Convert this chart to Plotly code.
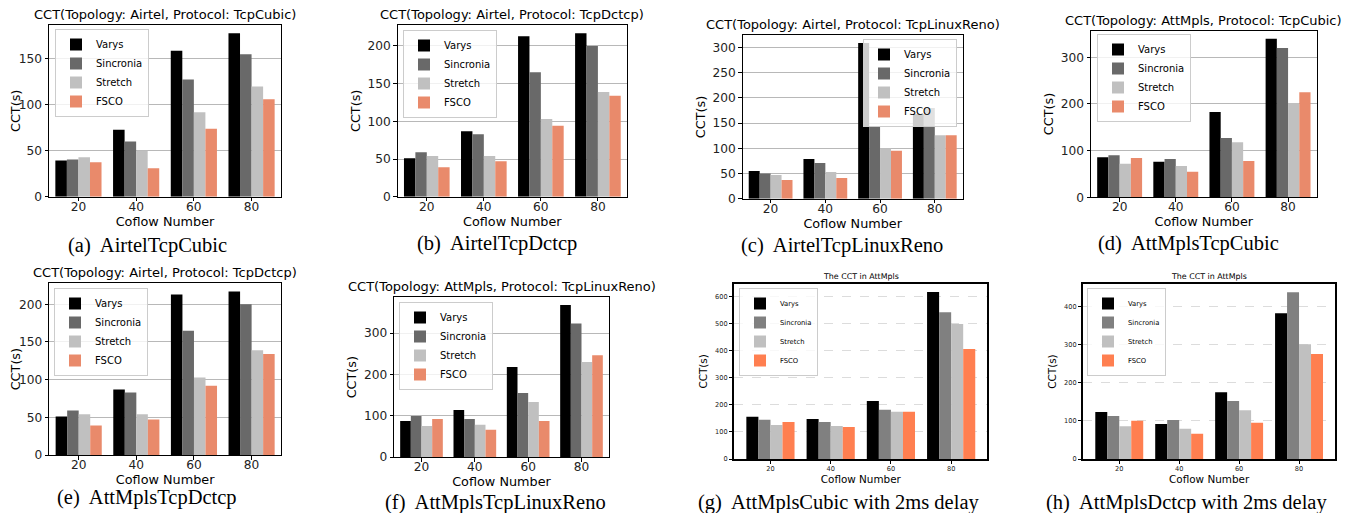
import plotly.graph_objects as go

# ---------------- data ----------------
categories = ["20", "40", "60", "80"]
series_names = ["Varys", "Sincronia", "Stretch", "FSCO"]

a_varys = [39.5, 73, 159, 178]
a_sincronia = [40.5, 60, 127.5, 155]
a_stretch = [43, 50, 92, 120]
a_fsco = [37.5, 31, 74, 106]

b_varys = [51, 87, 213, 217]
b_sincronia = [59, 83, 165, 200]
b_stretch = [54, 54, 103, 139]
b_fsco = [39, 47, 94, 134]

c_varys = [55, 79, 309, 168]
c_sincronia = [50, 71, 144, 180]
c_stretch = [47, 53, 100, 126]
c_fsco = [37, 41, 95, 126]

d_varys = [86, 76, 183, 340]
d_sincronia = [90, 82, 127, 320]
d_stretch = [72, 67, 118, 202]
d_fsco = [84, 55, 78, 225]

e_varys = [51, 87, 213, 217]
e_sincronia = [59, 83, 165, 200]
e_stretch = [54, 54, 103, 139]
e_fsco = [39, 47, 92, 134]

f_varys = [87, 114, 218, 368]
f_sincronia = [99, 92, 155, 323]
f_stretch = [75, 78, 133, 230]
f_fsco = [92, 66, 87, 246]

g_varys = [156, 148, 215, 618]
g_sincronia = [145, 137, 182, 543]
g_stretch = [126, 122, 175, 500]
g_fsco = [137, 118, 175, 407]

h_varys = [123, 92, 175, 382]
h_sincronia = [113, 102, 152, 437]
h_stretch = [86, 79, 128, 301]
h_fsco = [100, 66, 95, 275]

titles = [
    "CCT(Topology: Airtel, Protocol: TcpCubic)",
    "CCT(Topology: Airtel, Protocol: TcpDctcp)",
    "CCT(Topology: Airtel, Protocol: TcpLinuxReno)",
    "CCT(Topology: AttMpls, Protocol: TcpCubic)",
    "CCT(Topology: Airtel, Protocol: TcpDctcp)",
    "CCT(Topology: AttMpls, Protocol: TcpLinuxReno)",
    "The CCT in AttMpls",
    "The CCT in AttMpls",
]
captions = [
    "(a)  AirtelTcpCubic",
    "(b)  AirtelTcpDctcp",
    "(c)  AirtelTcpLinuxReno",
    "(d)  AttMplsTcpCubic",
    "(e)  AttMplsTcpDctcp",
    "(f)  AttMplsTcpLinuxReno",
    "(g)  AttMplsCubic with 2ms delay",
    "(h)  AttMplsDctcp with 2ms delay",
]
panels = [
    [a_varys, a_sincronia, a_stretch, a_fsco],
    [b_varys, b_sincronia, b_stretch, b_fsco],
    [c_varys, c_sincronia, c_stretch, c_fsco],
    [d_varys, d_sincronia, d_stretch, d_fsco],
    [e_varys, e_sincronia, e_stretch, e_fsco],
    [f_varys, f_sincronia, f_stretch, f_fsco],
    [g_varys, g_sincronia, g_stretch, g_fsco],
    [h_varys, h_sincronia, h_stretch, h_fsco],
]
y_dticks = [50, 50, 50, 100, 50, 100, 100, 100]

# ---------------- layout geometry (screen pixels of the target) ----------------
OFF = 8                      # the page body margin shifts the figure by 8 px
W, H = 1350 - OFF, 513 - OFF
# x0, x1, ytop, ybottom
boxes = [
    (49, 281, 25, 196.7),
    (397.7, 627, 25, 196.7),
    (742.7, 962.7, 35.3, 198.7),
    (1091, 1316.7, 30.7, 197.3),
    (49.3, 281, 283.3, 455),
    (394.3, 608.7, 297.3, 457),
    (734.3, 987.3, 283.7, 459),
    (1083.3, 1335, 284, 459),
]
caption_pos = [
    (147, 245), (497, 244), (842, 245), (1188, 244),
    (147, 497), (495, 502), (838, 502), (1186, 502),
]
legend_pos = [
    (55, 29, "left"), (403, 30, "left"), (957, 39, "right"), (1097, 34, "left"),
    (54, 288, "left"), (399, 302, "left"), (739, 288, "left"), (1087, 288, "left"),
]


def px(x):
    return (x - OFF) / W


def py(y):
    return 1 - (y - OFF) / H


colors_top = ["#000000", "#696969", "#c0c0c0", "#e98a6b"]
colors_bot = ["#000000", "#808080", "#c0c0c0", "#ff7f50"]

FONT = "DejaVu Sans"

fig = go.Figure()
layout = dict(
    width=W, height=H,
    margin=dict(l=0, r=0, t=0, b=0),
    paper_bgcolor="white", plot_bgcolor="white",
    barmode="group", bargap=0.2, bargroupgap=0,
    font=dict(family=FONT, color="black"),
    annotations=[],
)

for i, (vals, box) in enumerate(zip(panels, boxes)):
    k = i + 1
    xa = "x" if k == 1 else f"x{k}"
    ya = "y" if k == 1 else f"y{k}"
    leg = "legend" if k == 1 else f"legend{k}"
    classic = i >= 6
    cols = colors_bot if classic else colors_top
    for name, v, c in zip(series_names, vals, cols):
        fig.add_trace(go.Bar(
            x=categories, y=v, name=name, marker=dict(color=c, line=dict(width=0)),
            xaxis=xa, yaxis=ya, legend=leg, showlegend=True,
        ))
    x0, x1, yt, yb = box
    ymax = max(max(v) for v in vals) * 1.05
    tick_fs = 6.6 if classic else 12.2
    xlab_fs = 10.4 if classic else 12.8
    ylab_fs = 10.4 if classic else 12.8
    xr = [-0.6, 3.6] if classic else [-0.51, 3.51]
    lw = 1.7 if classic else 1
    layout[f"xaxis{'' if k == 1 else k}"] = dict(
        domain=[px(x0), px(x1)], anchor=ya, type="category", range=xr,
        showline=True, mirror=True, linecolor="black", linewidth=lw,
        ticks="outside", ticklen=3.5, tickwidth=1, tickcolor="black",
        tickfont=dict(size=tick_fs, family=FONT, color="#222"),
        ticklabelstandoff=-1 if classic else -5,
        showgrid=False, zeroline=False,
        title=dict(text="Coflow Number", font=dict(size=xlab_fs, family=FONT),
                   standoff=1 if classic else 0),
        automargin=False,
    )
    layout[f"yaxis{'' if k == 1 else k}"] = dict(
        domain=[py(yb), py(yt)], anchor=xa, range=[0, ymax],
        dtick=y_dticks[i], tick0=0,
        showline=True, mirror=True, linecolor="black", linewidth=lw,
        ticks="outside", ticklen=3.5, tickwidth=1, tickcolor="black",
        tickfont=dict(size=tick_fs, family=FONT, color="#222"),
        showgrid=True,
        gridcolor="#dcdcdc" if classic else "#b8b8b8",
        griddash="dash" if classic else "solid",
        gridwidth=1 if classic else 1.2,
        zeroline=False,
        title=dict(text="CCT(s)", font=dict(size=ylab_fs, family=FONT),
                   standoff=5 if classic else 4),
        automargin=False,
    )
    lx, ly, lanchor = legend_pos[i]
    layout[leg] = dict(
        x=px(lx), y=py(ly), xanchor=lanchor, yanchor="top",
        xref="paper", yref="paper",
        bgcolor="rgba(255,255,255,0.8)", bordercolor="#cccccc", borderwidth=1,
        font=dict(size=6.8 if classic else 10, family=FONT, color="black"),
        tracegroupgap=0, itemwidth=30,
    )
    # subplot title
    layout["annotations"].append(dict(
        text=titles[i], xref="paper", yref="paper",
        x=px((x0 + x1) / 2), y=py(yt), xanchor="center", yanchor="bottom",
        yshift=1, showarrow=False,
        font=dict(size=7.9 if classic else 13, family=FONT, color="black"),
    ))
    # caption
    cx, cy = caption_pos[i]
    layout["annotations"].append(dict(
        text=captions[i], xref="paper", yref="paper",
        x=px(cx), y=py(cy), xanchor="center", yanchor="middle",
        showarrow=False,
        font=dict(size=20.5, family="Liberation Serif", color="black"),
    ))

fig.update_layout(**layout)
fig.write_html("out.html")
